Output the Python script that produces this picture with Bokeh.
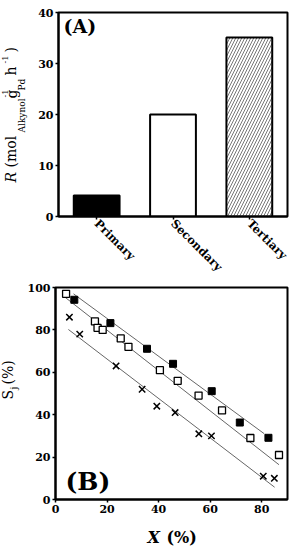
import math
from bokeh.plotting import figure
from bokeh.layouts import column, row
from bokeh.models import ColumnDataSource, Range1d, FactorRange, Label, FixedTicker
from bokeh.embed import file_html
from bokeh.resources import INLINE

# ---------------- data ----------------
categories = ["Primary", "Secondary", "Tertiary"]
rates = [4.1, 20.0, 35.1]
bar_fill = ["black", "white", "white"]
bar_hatch = [" ", " ", "/"]

conv_filled = [7.3, 21.3, 35.5, 45.6, 60.6, 71.5, 82.6]
sel_filled = [94.2, 83.2, 71.1, 64.0, 51.1, 36.3, 29.1]
conv_open = [4.1, 15.3, 16.3, 18.3, 25.3, 28.3, 40.5, 47.4, 55.5, 64.6, 75.6, 86.7]
sel_open = [97.0, 84.0, 81.0, 80.0, 76.0, 72.0, 61.0, 56.0, 49.0, 42.0, 29.0, 21.0]
conv_cross = [5.4, 9.4, 23.5, 33.6, 39.3, 46.4, 55.6, 60.5, 80.6, 84.9]
sel_cross = [86.0, 78.0, 63.0, 52.0, 44.0, 41.0, 31.0, 30.0, 11.0, 10.0]

fit_filled_x = [7.0, 81.0]
fit_filled_y = [97.0, 31.0]
fit_open_x = [3.7, 86.7]
fit_open_y = [95.4, 16.4]
fit_cross_x = [5.0, 85.0]
fit_cross_y = [80.2, 5.8]

yticks_a = [0, 10, 20, 30, 40]
xticks_b = [0, 20, 40, 60, 80]
yticks_b = [0, 20, 40, 60, 80, 100]

SERIF = "DejaVu Serif"
UP = math.pi / 2


def style_axes(p):
    for ax in (p.xaxis[0], p.yaxis[0]):
        ax.axis_line_width = 2
        ax.axis_line_color = "black"
        ax.major_tick_in = 0
        ax.major_tick_out = 3
        ax.major_tick_line_width = 1.5
        ax.minor_tick_line_color = None
        ax.major_label_text_font = SERIF
        ax.major_label_text_font_style = "bold"
        ax.major_label_text_font_size = "11px"
        ax.major_label_text_color = "black"
        ax.major_label_standoff = 2
        ax.axis_label = None
    p.xgrid.grid_line_color = None
    p.ygrid.grid_line_color = None
    p.outline_line_color = "black"
    p.outline_line_width = 2
    p.outline_line_alpha = 1


def label_fig(w, h, top, bottom, page_top):
    f = figure(width=w, height=h, x_range=Range1d(0, w),
               y_range=Range1d(bottom, h - top),
               output_backend="svg", toolbar_location=None,
               min_border_left=0, min_border_right=0,
               min_border_top=top, min_border_bottom=bottom)
    f.axis.visible = False
    f.xgrid.grid_line_color = None
    f.ygrid.grid_line_color = None
    f.outline_line_color = None
    f.tags = [page_top]
    return f


def put_v(f, text, cx, py, size, style="normal"):
    # vertical text reading upward; cx = page x of the glyphs' centre, py = page y of its start
    page_top = f.tags[0]
    f.add_layout(Label(x=cx - 4.0 * size / 14.0, y=f.height - (py - page_top), text=text,
                       angle=UP, text_font=SERIF, text_font_style=style,
                       text_font_size=f"{size}px", text_color="black",
                       text_align="left", text_baseline="middle"))


def put_h(f, text, px, py, size, style="normal"):
    page_top = f.tags[0]
    f.add_layout(Label(x=px, y=f.height - (py - page_top), text=text,
                       text_font=SERIF, text_font_style=style,
                       text_font_size=f"{size}px", text_color="black",
                       text_align="left", text_baseline="alphabetic"))


def put_frame(p, text, px, py, fl, fb, size, style="normal"):
    p.add_layout(Label(x=px - fl, y=fb - py, x_units="screen", y_units="screen",
                       text=text, text_font=SERIF, text_font_style=style,
                       text_font_size=f"{size}px", text_color="black",
                       text_align="left", text_baseline="alphabetic"))


# ---------------- panel A ----------------
src_a = ColumnDataSource(dict(cat=categories, rate=rates, fill=bar_fill, hatch=bar_hatch))
pa = figure(x_range=FactorRange(*categories, range_padding=0), y_range=Range1d(0, 40),
            width=267, height=282, output_backend="svg", toolbar_location=None,
            min_border_left=28, min_border_right=10, min_border_top=12, min_border_bottom=66)
pa.vbar(x="cat", top="rate", width=0.6, source=src_a, fill_color="fill",
        line_color="black", line_width=2, hatch_pattern="hatch",
        hatch_color="#777777", hatch_scale=6, hatch_weight=1)
style_axes(pa)
pa.yaxis[0].ticker = FixedTicker(ticks=yticks_a)
pa.xaxis[0].major_label_orientation = -math.pi / 4
pa.xaxis[0].major_label_text_font_size = "11.5px"
put_frame(pa, "(A)", 63, 25, 58, 216, 19, "bold")

la = label_fig(30, 282, 12, 66, 0)
put_v(la, "R", 14.5, 182, 14, "italic")
put_v(la, "(mol", 14.5, 167, 14)
put_v(la, "Alkynol", 24, 132, 9)
put_v(la, "g", 15.5, 98, 14)
put_v(la, "-1", 7.5, 97, 8)
put_v(la, "Pd", 24, 90, 9)
put_v(la, "h", 14.5, 75, 14)
put_v(la, "-1", 7.5, 63, 8)
put_v(la, ")", 14.5, 52, 14)

# ---------------- panel B ----------------
pb = figure(x_range=Range1d(0, 90), y_range=Range1d(0, 100),
            width=273, height=237, output_backend="svg", toolbar_location=None,
            min_border_left=28, min_border_right=10, min_border_top=5, min_border_bottom=20)
pb.line(fit_filled_x, fit_filled_y, line_color="#666666", line_width=1)
pb.line(fit_open_x, fit_open_y, line_color="#666666", line_width=1)
pb.line(fit_cross_x, fit_cross_y, line_color="#666666", line_width=1)
pb.scatter(conv_filled, sel_filled, marker="square", size=7, fill_color="black", line_color="black")
pb.scatter(conv_open, sel_open, marker="square", size=7, fill_color="white", line_color="black",
           line_width=1.3)
pb.scatter(conv_cross, sel_cross, marker="x", size=9, line_color="black", line_width=1.5)
style_axes(pb)
pb.xaxis[0].ticker = FixedTicker(ticks=xticks_b)
pb.yaxis[0].ticker = FixedTicker(ticks=yticks_b)
put_frame(pb, "(B)", 62, 481, 52, 499, 25, "bold")

lb = label_fig(24, 237, 5, 20, 282)
put_v(lb, "S", 11.5, 399, 14)
put_v(lb, "j", 16.5, 389, 9)
put_v(lb, "(%)", 11.5, 384, 14)

lx = label_fig(297, 30, 0, 0, 519)
put_h(lx, "X", 147, 537, 16, "bold italic")
put_h(lx, "(%)", 166, 537, 16, "bold")

layout = column(row(la, pa, spacing=0), row(lb, pb, spacing=0), lx, spacing=0)
open("out.html", "w").write(file_html(layout, INLINE))
